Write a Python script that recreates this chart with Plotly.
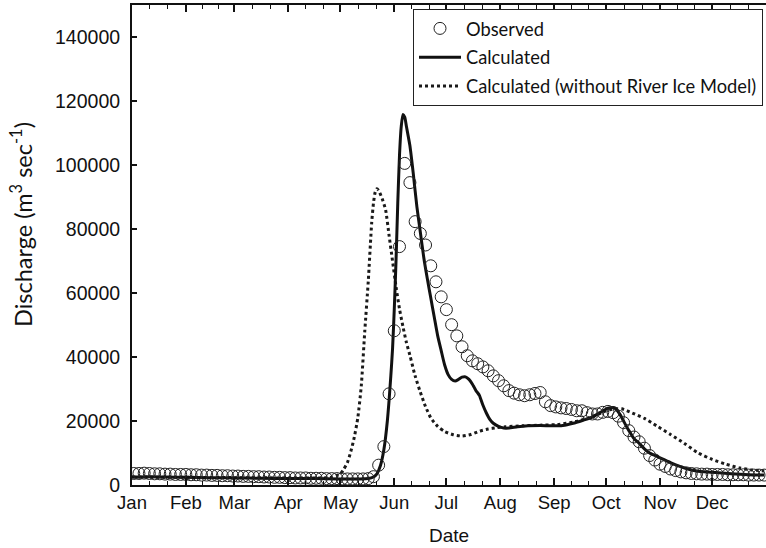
import pandas as pd
import plotly.graph_objects as go

# ---------------- data ----------------
obs_days = list(range(1, 365, 3))
obs_values = [
    3600, 3600, 3700, 3600, 3500, 3500, 3400, 3400, 3300, 3300,
    3300, 3200, 3200, 3100, 3100, 3000, 3000, 2900, 2900, 2800,
    2800, 2700, 2700, 2600, 2600, 2500, 2500, 2400, 2400, 2300,
    2300, 2200, 2200, 2200, 2100, 2100, 2100, 2000, 2000, 2000,
    1900, 1900, 1900, 1900, 1900, 2000, 2600, 6200, 12000, 28500,
    48200, 74500, 100500, 94500, 82300, 78600, 75000, 68500, 63500, 58800,
    54800, 50100, 46600, 43200, 40400, 38800, 37900, 36900, 35700, 34100,
    32600, 31000, 29500, 28700, 28200, 27900, 28200, 28600, 28900, 26000,
    24800, 24400, 24100, 23900, 23600, 23200, 23200, 22600, 22200, 22200,
    22700, 23000, 22600, 21500, 19500, 17000, 15000, 13500, 11500, 9200,
    7800, 6500, 5800, 5000, 4500, 4100, 3800, 3600, 3500, 3400,
    3400, 3300, 3300, 3300, 3200, 3200, 3200, 3200, 3100, 3100,
    3100, 3100,
]

calc_days = [0, 10, 20, 30, 45, 60, 75, 90, 105, 120, 130, 136, 139, 141, 143,
             145, 147, 149, 150, 151, 152, 153, 154, 155, 156, 157, 158, 160,
             162, 164, 166, 168, 170, 172, 174, 176, 178, 180, 182, 184, 186,
             188, 190, 192, 194, 196, 197, 198, 199, 200, 202, 204, 206, 208,
             211, 214, 217, 222, 228, 235, 242, 248, 254, 260, 265, 270, 274,
             277, 279, 281, 283, 285, 287, 289, 292, 295, 298, 302, 306, 310,
             315, 320, 325, 334, 345, 355, 364]
calc_values = [2500, 2600, 2500, 2400, 2300, 2200, 2100, 2000, 2000, 1900, 1900,
               2000, 2500, 3500, 6000, 11000, 20000, 34000, 42600, 55000, 70000,
               88000, 103000, 112000, 115800, 115000, 112000, 106000, 97000,
               87000, 79000, 71000, 64500, 58500, 52500, 46600, 42000, 37500,
               34500, 33000, 32500, 33000, 33700, 33800, 33000, 31500, 30500,
               29500, 28800, 28000, 25000, 22500, 20500, 19300, 18300, 17800,
               17800, 18200, 18500, 18600, 18500, 18600, 19300, 20300, 21200,
               22800, 24000, 24200, 23500, 22000, 20000, 18000, 16200, 14500,
               13000, 11300, 10000, 9000, 8000, 7000, 5900, 5000, 4400, 4000,
               3500, 3200, 3100]

noice_days = [0, 30, 60, 90, 110, 115, 118, 120, 122, 124, 126, 128, 130, 132,
              134, 136, 138, 139, 140, 141, 142, 144, 146, 148, 150, 152, 154,
              156, 158, 160, 163, 166, 169, 172, 176, 180, 185, 190, 195, 200,
              205, 210, 215, 225, 235, 245, 255, 262, 268, 273, 278, 282, 288,
              295, 302, 310, 318, 326, 334, 342, 350, 357, 364]
noice_values = [2500, 2400, 2300, 2200, 2200, 2400, 3000, 3500, 5000, 7000,
                10500, 15000, 21000, 31000, 48000, 63500, 82000, 88000, 91500,
                92600, 92000, 89500, 86000, 78000, 70000, 62000, 55000, 49500,
                44500, 40500, 34100, 29000, 24500, 21000, 18300, 16700, 15700,
                15300, 15800, 16800, 17500, 17900, 18200, 18500, 18700, 18900,
                19800, 20800, 22000, 23200, 23800, 23800, 22500, 20800, 18500,
                15800, 13000, 10000, 8000, 6500, 5300, 4700, 4400]

month_labels = ["Jan", "Feb", "Mar", "Apr", "May", "Jun",
                "Jul", "Aug", "Sep", "Oct", "Nov", "Dec"]
y_ticks = [0, 20000, 40000, 60000, 80000, 100000, 120000, 140000]

# ---------------- helpers ----------------
base = pd.Timestamp("2001-01-01")
end = pd.Timestamp("2002-01-01")


def to_dates(days):
    return [base + pd.Timedelta(days=d) for d in days]


month_starts = [pd.Timestamp(2001, m, 1) for m in range(1, 13)]
minor_ticks = []
for i, m in enumerate(month_starts):
    nxt = month_starts[i + 1] if i < 11 else end
    span = nxt - m
    minor_ticks.append(m + span / 3)
    minor_ticks.append(m + 2 * span / 3)

TICK_FONT = "Liberation Sans, Arial"

fig = go.Figure()

fig.add_trace(go.Scatter(
    x=to_dates(noice_days), y=noice_values, mode="lines",
    name="Calculated (without River Ice Model)",
    line=dict(color="#1a1a1a", width=3, dash="dot", shape="spline", smoothing=0.6),
    legendrank=3, legendgroup="c",
))
fig.add_trace(go.Scatter(
    x=to_dates(calc_days), y=calc_values, mode="lines",
    name="Calculated",
    line=dict(color="#111111", width=3, shape="spline", smoothing=0.6),
    legendrank=2, legendgroup="b",
))
fig.add_trace(go.Scatter(
    x=to_dates(obs_days), y=obs_values, mode="markers",
    name="Observed",
    marker=dict(symbol="circle-open", size=12, color="#222222",
                line=dict(width=1, color="#222222")),
    legendrank=1, legendgroup="a",
))

fig.update_layout(
    width=766, height=548,
    margin=dict(l=132, r=0, t=5, b=63),
    paper_bgcolor="white", plot_bgcolor="white",
    showlegend=True,
    legend=dict(
        x=(413 - 132) / 634, y=(485 - 9) / 480, xanchor="left", yanchor="top",
        bgcolor="white", bordercolor="#222222", borderwidth=1,
        font=dict(family="Lato", size=18.3, color="#111111"),
        traceorder="grouped", tracegroupgap=2, itemwidth=42,
    ),
    xaxis=dict(
        range=[base, end],
        tickmode="array", tickvals=month_starts, ticktext=month_labels,
        ticks="inside", ticklen=7, tickwidth=1.5, tickcolor="#111111",
        showline=True, linecolor="#111111", linewidth=2, mirror="ticks",
        showgrid=False, zeroline=False,
        tickfont=dict(family=TICK_FONT, size=18.5, color="#111111"),
        title=dict(text="Date", font=dict(family=TICK_FONT, size=19, color="#111111"),
                   standoff=16),
        minor=dict(tickmode="array", tickvals=minor_ticks, ticks="inside",
                   ticklen=4, tickwidth=1, tickcolor="#111111"),
    ),
    yaxis=dict(
        range=[0, 150000],
        tickmode="array", tickvals=y_ticks, tickformat="d",
        ticks="inside", ticklen=5, tickwidth=1.5, tickcolor="#111111",
        showline=True, linecolor="#111111", linewidth=2, mirror=False,
        showgrid=False, zeroline=False,
        tickfont=dict(family="Liberation Sans, Arial", size=19.5, color="#111111"),
        ticklabelstandoff=6,
    ),
    annotations=[dict(
        text="Discharge (m<sup>3</sup> sec<sup>-1</sup>)",
        xref="paper", yref="paper",
        x=(21 - 132) / 634, y=(485 - 225) / 480,
        xanchor="center", yanchor="middle", textangle=-90, showarrow=False,
        font=dict(family="Lato", size=23.5, color="#111111"),
    )],
)

fig.write_html("out.html")
